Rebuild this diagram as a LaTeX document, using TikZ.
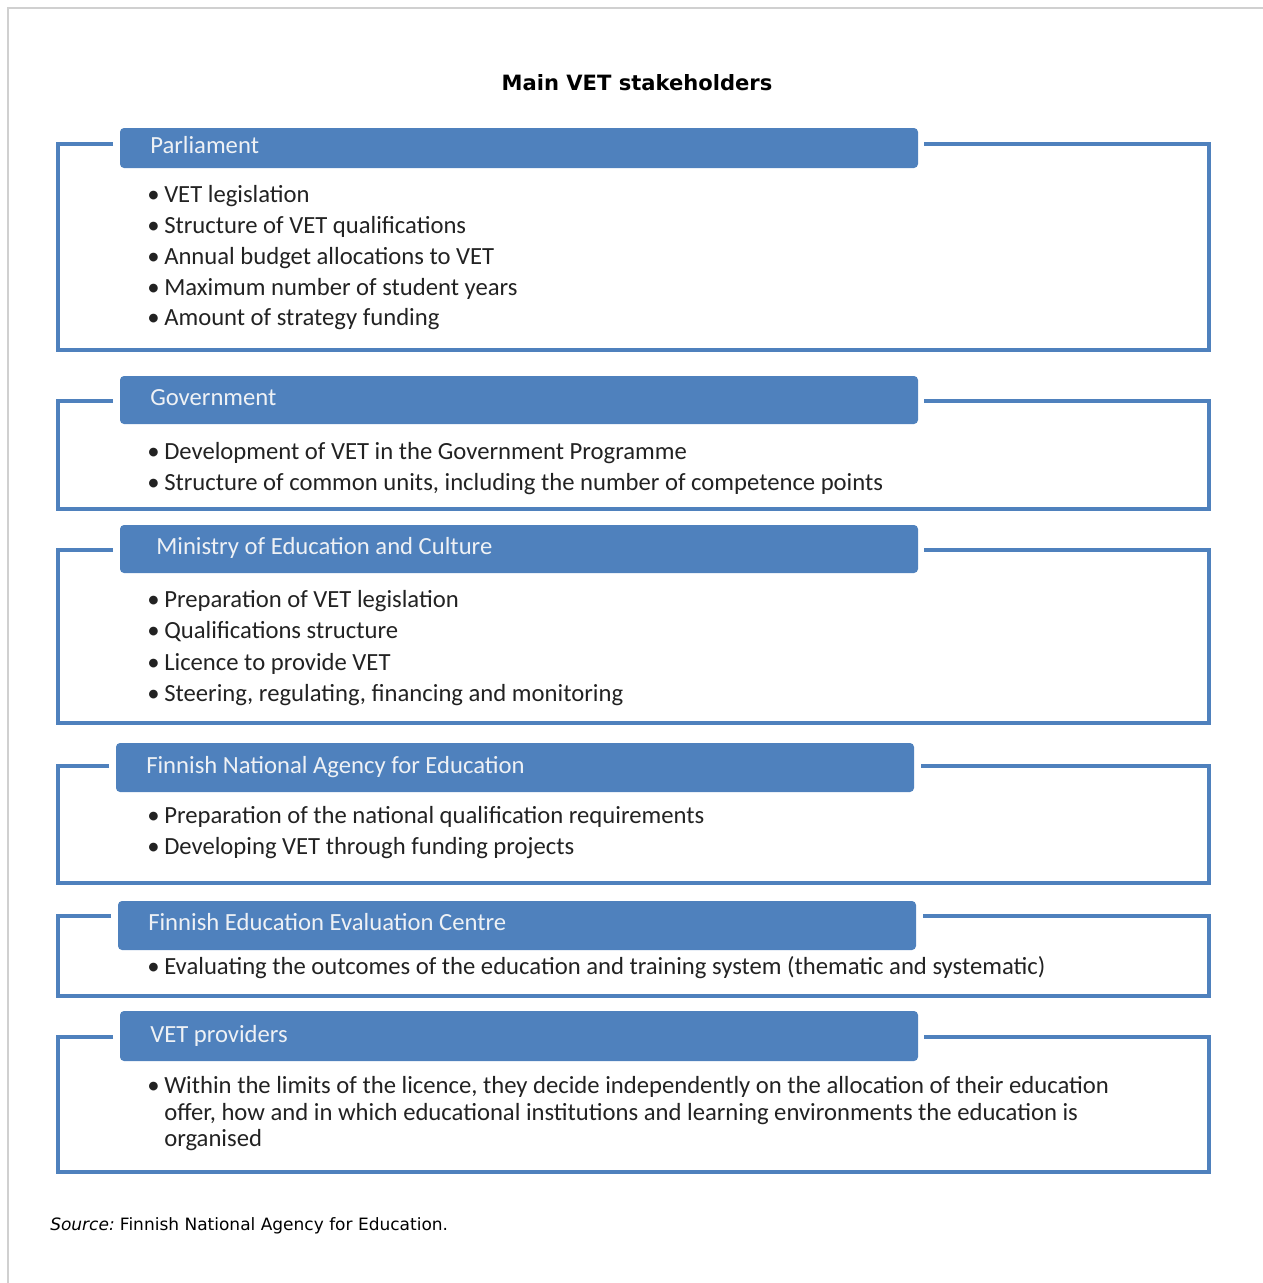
\documentclass[tikz,border=0pt]{standalone}
\usepackage{fontspec}
\setmainfont{DejaVu Sans}
\newfontfamily\calfont{Carlito}
\definecolor{vblue}{HTML}{4F81BD}
\definecolor{htext}{HTML}{EEF1F5}
\definecolor{btext}{HTML}{222222}
\definecolor{framegray}{HTML}{D0D0D0}
\newcommand\bul{\llap{•\hspace{3.5pt}}}
\tikzset{
  hbar/.style={fill=vblue, rounded corners=3pt, minimum width=598.5pt, inner sep=0pt},
  htxt/.style={anchor=base west, inner sep=0pt, text=htext, font=\calfont\fontsize{18.5}{22}\selectfont},
  itm/.style={anchor=base west, inner sep=0pt, text=btext, font=\calfont\fontsize{18.5}{22}\selectfont},
  brk/.style={draw=vblue, line width=3pt, line join=miter},
}
\begin{document}
\begin{tikzpicture}[x=0.75pt,y=-0.75pt]
\useasboundingbox (0,0) rectangle (1263,1283);
\draw[framegray, line width=1.5pt] (8,1283) -- (8,8) -- (1263,8);
\node[anchor=base, inner sep=0pt, font=\bfseries\fontsize{15.8}{19}\selectfont] (title) at (637,90) {Main VET stakeholders};

% Parliament
\draw[brk] (113,144) -- (58,144) -- (58,350) -- (1209,350) -- (1209,144) -- (924,144);
\node[hbar, minimum height=30pt] (h1) at (519,148) {};
\node[htxt] (t1) at (150,153) {Parliament};
\node[itm] (a1) at (164,202) {\bul VET legislation};
\node[itm] (a2) at (164,233) {\bul Structure of VET qualifications};
\node[itm] (a3) at (164,264) {\bul Annual budget allocations to VET};
\node[itm] (a4) at (164,295) {\bul Maximum number of student years};
\node[itm] (a5) at (164,325) {\bul Amount of strategy funding};

% Government
\draw[brk] (113,401) -- (58,401) -- (58,509) -- (1209,509) -- (1209,401) -- (924,401);
\node[hbar, minimum height=36pt] (h2) at (519,400) {};
\node[htxt] (t2) at (150,405) {Government};
\node[itm] (b1) at (164,459) {\bul Development of VET in the Government Programme};
\node[itm] (b2) at (164,490) {\bul Structure of common units, including the number of competence points};

% Ministry
\draw[brk] (113,550) -- (58,550) -- (58,723) -- (1209,723) -- (1209,550) -- (924,550);
\node[hbar, minimum height=36pt] (h3) at (519,549) {};
\node[htxt] (t3) at (156,554) {Ministry of Education and Culture};
\node[itm] (c1) at (164,607) {\bul Preparation of VET legislation};
\node[itm] (c2) at (164,638) {\bul Qualifications structure};
\node[itm] (c3) at (164,670) {\bul Licence to provide VET};
\node[itm] (c4) at (164,701) {\bul Steering, regulating, financing and monitoring};

% FNAE
\draw[brk] (109,766) -- (58,766) -- (58,883) -- (1209,883) -- (1209,766) -- (921,766);
\node[hbar, minimum height=36.75pt] (h4) at (515,767.5) {};
\node[htxt] (t4) at (146,773) {Finnish National Agency for Education};
\node[itm] (d1) at (164,823) {\bul Preparation of the national qualification requirements};
\node[itm] (d2) at (164,854) {\bul Developing VET through funding projects};

% FEEC
\draw[brk] (111,916) -- (58,916) -- (58,996) -- (1209,996) -- (1209,916) -- (923,916);
\node[hbar, minimum height=36.75pt] (h5) at (517,925.5) {};
\node[htxt] (t5) at (148,930) {Finnish Education Evaluation Centre};
\node[itm] (e1) at (164,974) {\bul Evaluating the outcomes of the education and training system (thematic and systematic)};

% VET providers
\draw[brk] (113,1037) -- (58,1037) -- (58,1172) -- (1209,1172) -- (1209,1037) -- (924,1037);
\node[hbar, minimum height=37.5pt] (h6) at (519,1036) {};
\node[htxt] (t6) at (150,1042) {VET providers};
\node[itm] (f1) at (164,1093) {\bul Within the limits of the licence, they decide independently on the allocation of their education};
\node[itm] (f2) at (164,1120) {offer, how and in which educational institutions and learning environments the education is};
\node[itm] (f3) at (164,1146) {organised};

\node[anchor=base west, inner sep=0pt, font=\fontsize{12.75}{15}\selectfont] (src) at (50,1230) {\textit{Source:}\hspace{-1.5pt} Finnish National Agency for Education.};
\end{tikzpicture}
\end{document}
